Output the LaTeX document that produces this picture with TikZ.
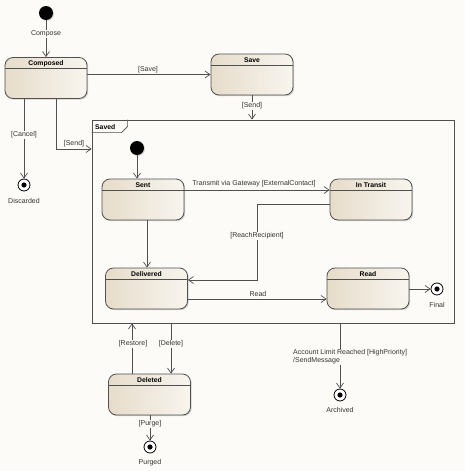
\documentclass[tikz,border=0pt]{standalone}
\usepackage{fontspec}
\setmainfont{Liberation Sans}
\usetikzlibrary{arrows.meta,shadows,calc}
\definecolor{bg}{HTML}{FCFBF7}
\definecolor{edge}{HTML}{505050}
\definecolor{stL}{HTML}{E6DCCA}
\definecolor{stR}{HTML}{F8F5EF}
\definecolor{txt}{HTML}{333333}
\begin{document}
\begin{tikzpicture}[x=1pt,y=-1pt,
 state/.style={draw=edge, line width=0.8pt, rounded corners=8pt, minimum width=82pt, minimum height=41pt,
   left color=stL, right color=stR, inner sep=0pt,
   drop shadow={shadow xshift=1.2pt,shadow yshift=-1.2pt,opacity=0.35}},
 ttl/.style={font=\fontsize{6.8}{7}\selectfont\bfseries, inner sep=0pt},
 lbl/.style={font=\fontsize{7}{8}\selectfont, text=txt, inner sep=1pt},
 lblbg/.style={lbl, fill=bg},
 tr/.style={draw=edge, line width=0.7pt, -{Straight Barb[length=5pt,width=7pt]}},
 ln/.style={draw=edge, line width=0.7pt},
 initst/.style={circle, fill=black, minimum size=14pt, inner sep=0pt,
   drop shadow={shadow xshift=1pt,shadow yshift=-1pt,opacity=0.3}},
 fin/.style={circle, draw=black, line width=0.8pt, fill=white, minimum size=12pt, inner sep=0pt,
   path picture={\fill[black] (path picture bounding box.center) circle (2.6pt);}},
]
\useasboundingbox[fill=bg] (0,0) rectangle (465,471);

% Saved composite state
\node[draw=edge, line width=0.8pt, fill=bg, minimum width=362pt, minimum height=203pt, inner sep=0pt,
  drop shadow={shadow xshift=1pt,shadow yshift=-1pt,opacity=0.25}] (saved) at (273,221.5) {};
\draw[ln] (saved.north west) ++(0,13) -- ++(30,0) -- ++(6,-6) -- ++(0,-7);
\node[ttl, anchor=west] (savedT) at (95,127) {Saved};

% states
\node[state] (composed) at (46,78) {};
\node[state] (save) at (252,74.5) {};
\node[state] (sent) at (143,199.5) {};
\node[state] (intransit) at (371,199.5) {};
\node[state] (delivered) at (146.5,288.5) {};
\node[state] (read) at (368,288.5) {};
\node[state] (deleted) at (149.5,394.5) {};

\foreach \n/\t in {composed/Composed,save/Save,sent/Sent,intransit/In Transit,delivered/Delivered,read/Read,deleted/Deleted}{
  \draw[ln] ([yshift=-11.5pt]\n.north west) -- ([yshift=-11.5pt]\n.north east);
  \node[ttl] (\n T) at ([yshift=-6.3pt]\n.north) {\t};
}

% pseudo states
\node[initst] (init0) at (46,13) {};
\node[initst] (init1) at (137,148) {};
\node[fin] (discarded) at (24,185) {};
\node[fin] (final) at (437,289) {};
\node[fin] (purged) at (150,447) {};
\node[fin] (archived) at (340,395) {};

\node[lbl] (discardedL) at (24,201) {Discarded};
\node[lbl] (finalL) at (437,305) {Final};
\node[lbl] (purgedL) at (150,463) {Purged};
\node[lbl] (archivedL) at (340,410) {Archived};

% transitions
\draw[tr] (init0) -- (composed);
\node[lblbg] (l1) at (46,34) {Compose};

\draw[tr] (composed.east |- save) -- (save.west);
\node[lbl] (l2) at (148,70) {[Save]};

\draw[tr] (save.south) -- (save.south |- saved.north);
\node[lblbg] (l3) at (252,106) {[Send]};

\draw[tr] (composed.south -| discarded) -- (discarded);
\node[lblbg] (l4) at (24,135) {[Cancel]};

\coordinate (c1) at (56,149);
\draw[tr] (composed.south -| c1) |- (saved.west |- c1);
\node[lbl] (l5) at (74,144) {[Send]};

\draw[tr] (init1) -- (sent.north -| init1);

\coordinate (t1) at (0,190);
\draw[tr] (sent.east |- t1) -- (intransit.west |- t1);
\node[lbl] (l6) at (254,183.5) {Transmit via Gateway [ExternalContact]};

\coordinate (r1) at (257,204);
\coordinate (r2) at (257,280);
\draw[tr] (intransit.west |- r1) -| (r2) -- (delivered.east |- r2);
\node[lblbg] (l7) at (257,236) {[ReachRecipient]};

\coordinate (s1) at (147,0);
\draw[tr] (sent.south -| s1) -- (delivered.north -| s1);

\coordinate (d1) at (0,299);
\draw[tr] (delivered.east |- d1) -- (read.west |- d1);
\node[lbl] (l8) at (258,294) {Read};

\draw[tr] (read.east |- final) -- (final);

\coordinate (rs) at (132,0);
\draw[tr] (deleted.north -| rs) -- (saved.south -| rs);
\node[lblbg] (l9) at (133,344) {[Restore]};

\coordinate (dl) at (171,0);
\draw[tr] (saved.south -| dl) -- (deleted.north -| dl);
\node[lblbg] (l10) at (171,344) {[Delete]};

\draw[tr] (deleted.south -| purged) -- (purged);
\node[lblbg] (l11) at (150,424) {[Purge]};

\draw[tr] (saved.south -| archived) -- (archived);
\node[lblbg, anchor=north west, align=left] (l12) at (292,348.5) {Account Limit Reached [HighPriority]\\/SendMessage};
\end{tikzpicture}
\end{document}
